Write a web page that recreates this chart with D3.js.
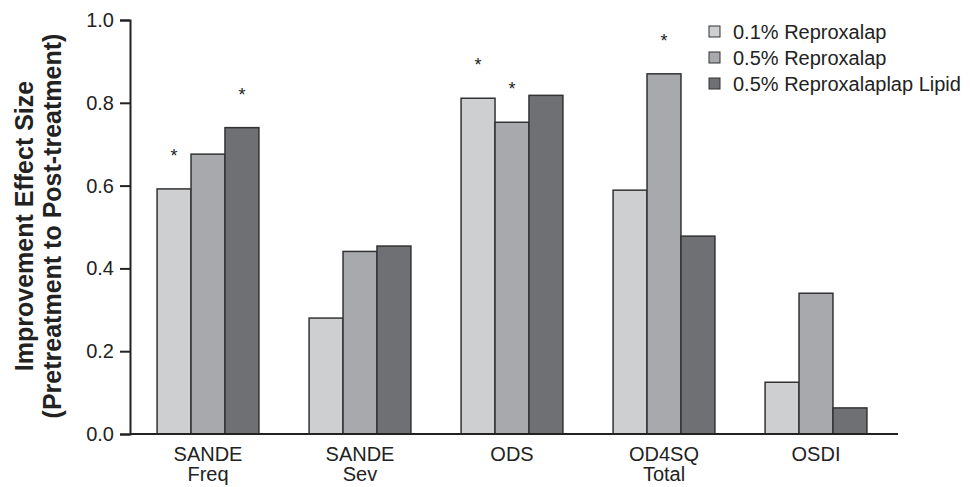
<!DOCTYPE html>
<html>
<head>
<meta charset="utf-8">
<script src="https://cdn.jsdelivr.net/npm/d3@7"></script>
<style>
  body { margin: 0; background: #fff; }
  text { font-family: "Liberation Sans", Arial, Helvetica, sans-serif; fill: #222; }
</style>
</head>
<body>
<svg id="chart" width="970" height="487"></svg>
<script>
// data
var categories = [["SANDE", "Freq"], ["SANDE", "Sev"], ["ODS"], ["OD4SQ", "Total"], ["OSDI"]];
var series = ["0.1% Reproxalap", "0.5% Reproxalap", "0.5% Reproxalaplap Lipid"];
var colors = ["#cdcfd1", "#a8a9ac", "#6f7074"];
var low = [0.592, 0.280, 0.811, 0.589, 0.125];
var mid = [0.676, 0.441, 0.753, 0.870, 0.340];
var lipid = [0.740, 0.454, 0.818, 0.478, 0.063];
// significance stars (1 = star above the bar)
var starLow = [1, 0, 1, 0, 0];
var starMid = [0, 0, 1, 1, 0];
var starLipid = [1, 0, 0, 0, 0];
var yTicks = [0, 0.2, 0.4, 0.6, 0.8, 1.0];

var values = [low, mid, lipid];
var stars = [starLow, starMid, starLipid];

var svg = d3.select("#chart");

var x0 = d3.scaleBand()
    .domain(d3.range(categories.length))
    .range([132, 892])
    .paddingInner(0.33)
    .paddingOuter(0.165);

var x1 = d3.scaleBand()
    .domain(d3.range(series.length))
    .range([0, x0.bandwidth()]);

var y = d3.scaleLinear().domain([0, 1]).range([434, 20]);

// bars
var groups = svg.selectAll("g.group")
    .data(categories)
    .enter().append("g")
    .attr("class", "group")
    .attr("transform", function(d, i) { return "translate(" + x0(i) + ",0)"; });

groups.selectAll("rect")
    .data(function(d, i) { return series.map(function(s, j) { return { j: j, v: values[j][i], star: stars[j][i] }; }); })
    .enter().append("rect")
    .attr("x", function(d) { return x1(d.j); })
    .attr("y", function(d) { return y(d.v); })
    .attr("width", x1.bandwidth())
    .attr("height", function(d) { return y(0) - y(d.v); })
    .style("fill", function(d) { return colors[d.j]; })
    .style("stroke", "#333")
    .style("stroke-width", 1.5);

groups.selectAll("text.star")
    .data(function(d, i) { return series.map(function(s, j) { return { j: j, v: values[j][i], star: stars[j][i] }; }).filter(function(d) { return d.star; }); })
    .enter().append("text")
    .attr("class", "star")
    .attr("x", function(d) { return x1(d.j) + x1.bandwidth() / 2; })
    .attr("y", function(d) { return y(d.v) - 27; })
    .attr("text-anchor", "middle")
    .style("font-size", "18px")
    .text("*");

// y axis
var yAxis = d3.axisLeft(y)
    .tickValues(yTicks)
    .tickSize(10)
    .tickPadding(6)
    .tickFormat(d3.format(".1f"));

var ya = svg.append("g")
    .attr("transform", "translate(130,0)")
    .call(yAxis);
ya.select(".domain").attr("stroke", "#222").attr("stroke-width", 2);
ya.selectAll(".tick line").attr("stroke", "#222").attr("stroke-width", 2);
ya.selectAll(".tick text").style("font-size", "20px").style("font-family", "Liberation Sans, Arial, sans-serif").attr("fill", "#222");

// x axis line
svg.append("line")
    .attr("x1", 130).attr("x2", 898)
    .attr("y1", y(0)).attr("y2", y(0))
    .attr("stroke", "#222").attr("stroke-width", 2);

// category labels
var cl = svg.selectAll("text.cat")
    .data(categories)
    .enter().append("text")
    .attr("class", "cat")
    .attr("text-anchor", "middle")
    .attr("x", function(d, i) { return x0(i) + x0.bandwidth() / 2; })
    .attr("y", 461)
    .style("font-size", "20px");
cl.selectAll("tspan")
    .data(function(d) { return d; })
    .enter().append("tspan")
    .attr("x", function() { return this.parentNode.getAttribute("x"); })
    .attr("dy", function(d, i) { return i ? 20 : 0; })
    .text(function(d) { return d; });

// y title
var yt = svg.append("text")
    .attr("transform", "translate(0,226) rotate(-90)")
    .attr("text-anchor", "middle")
    .style("font-size", "25px")
    .style("font-weight", "bold");
yt.append("tspan").attr("x", 0).attr("y", 33).text("Improvement Effect Size");
yt.append("tspan").attr("x", 0).attr("y", 61).text("(Pretreatment to Post-treatment)");

// legend
var lg = svg.selectAll("g.legend")
    .data(series)
    .enter().append("g")
    .attr("class", "legend")
    .attr("transform", function(d, i) { return "translate(709," + (32 + i * 26) + ")"; });
lg.append("rect")
    .attr("x", 0).attr("y", -6)
    .attr("width", 11).attr("height", 11)
    .style("fill", function(d, i) { return colors[i]; })
    .style("stroke", "#333")
    .style("stroke-width", 1);
lg.append("text")
    .attr("x", 24).attr("y", 7)
    .style("font-size", "20px")
    .text(function(d) { return d; });
</script>
</body>
</html>
